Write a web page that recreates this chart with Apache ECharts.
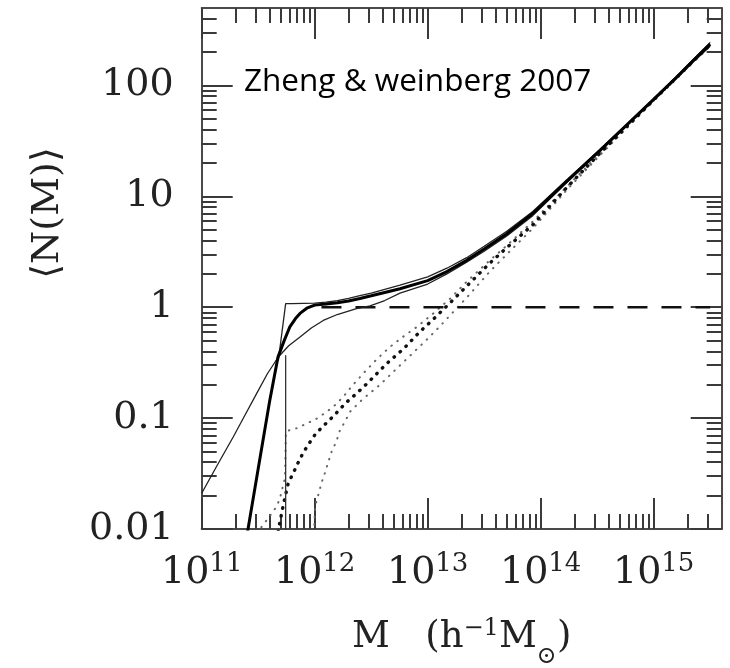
<!DOCTYPE html>
<html><head><meta charset="utf-8">
<script src="https://cdn.jsdelivr.net/npm/echarts@6/dist/echarts.min.js"></script>
<style>html,body{margin:0;padding:0;background:#fff}#c{width:730px;height:668px}</style>
</head><body><div id="c"></div>
<script>
// ---- axis ranges / tick labels ----
const xMinM = 1e11, xMaxM = 4e15;          // M (h^-1 Msun)
const yMinN = 0.01, yMaxN = 500;           // <N(M)>
const xTickExponents = [11, 12, 13, 14, 15];
const yTickValues = [0.01, 0.1, 1, 10, 100];
const yTickLabels = ['0.01', '0.1', '1', '10', '100'];

// ---- curves (log10 M , N) ----
// thick solid (moderate scatter)
const thickLogM = [11.39, 11.41, 11.50, 11.60, 11.675, 11.73, 11.78, 11.83, 11.87, 11.93, 12.00, 12.10, 12.20, 12.30, 12.40, 12.50, 12.62, 12.755, 13.00, 13.17, 13.345, 13.50, 13.70, 13.93, 14.20, 14.525, 14.80, 15.00, 15.20, 15.35, 15.50];
const thickN    = [0.008, 0.01, 0.035, 0.14, 0.355, 0.50, 0.665, 0.79, 0.88, 0.98, 1.045, 1.07, 1.10, 1.14, 1.20, 1.27, 1.36, 1.47, 1.74, 2.1, 2.65, 3.35, 4.6, 7.0, 12.8, 26, 48, 75, 118, 168, 236];
// thin solid, sharp step (lower vertical piece and upper piece)
const stepLowLogM = [11.743, 11.743];
const stepLowN    = [0.008, 0.37];
const stepLogM = [11.678, 11.743, 11.80, 11.90, 12.00, 12.10, 12.20, 12.30, 12.40, 12.50, 12.62, 12.755, 13.00, 13.17, 13.345, 13.50, 13.70, 13.93, 14.20, 14.525, 14.80, 15.00, 15.20, 15.35, 15.50];
const stepN    = [0.33, 1.08, 1.08, 1.085, 1.09, 1.11, 1.15, 1.20, 1.27, 1.34, 1.45, 1.58, 1.88, 2.25, 2.8, 3.55, 4.85, 7.3, 13.2, 26.5, 48.5, 76, 120, 172, 245];
// thin solid, wide scatter
const wideLogM = [11.0, 11.14, 11.28, 11.38, 11.487, 11.58, 11.678, 11.77, 11.87, 11.97, 12.076, 12.20, 12.37, 12.49, 12.62, 12.755, 13.00, 13.17, 13.345, 13.50, 13.70, 13.93, 14.20, 14.525, 14.80, 15.00, 15.20, 15.35, 15.50];
const wideN    = [0.021, 0.038, 0.068, 0.105, 0.167, 0.25, 0.356, 0.45, 0.54, 0.65, 0.76, 0.86, 0.97, 1.03, 1.15, 1.34, 1.62, 2.0, 2.55, 3.2, 4.4, 6.7, 12.4, 25.5, 47.5, 74, 115, 163, 226];
// dashed central occupation
const dashLogM = [12.06, 15.50];
const dashN    = [1, 1];
// dotted satellites
const sat1LogM = [11.50, 11.531, 11.575, 11.619, 11.664, 11.693, 11.737, 11.745, 11.79, 11.84, 11.93, 12.018, 12.106, 12.18, 12.253, 12.34, 12.43, 12.55, 12.667, 12.78, 12.90, 13.05, 13.20, 13.345, 13.55, 13.70, 13.935, 14.23, 14.525, 15.00, 15.50];
const sat1N    = [0.009, 0.0105, 0.012, 0.0138, 0.016, 0.019, 0.029, 0.075, 0.079, 0.081, 0.0895, 0.099, 0.114, 0.131, 0.156, 0.20, 0.253, 0.34, 0.44, 0.54, 0.66, 0.88, 1.2, 1.7, 2.65, 3.6, 6.0, 12.2, 24.5, 74, 232];
const sat2LogM = [11.67, 11.68, 11.722, 11.766, 11.811, 11.855, 11.899, 11.95, 12.003, 12.071, 12.135, 12.209, 12.274, 12.35, 12.43, 12.53, 12.637, 12.784, 12.93, 13.05, 13.20, 13.345, 13.55, 13.70, 13.935, 14.23, 14.525, 15.00, 15.50];
const sat2N    = [0.008, 0.01, 0.0164, 0.026, 0.032, 0.040, 0.049, 0.059, 0.071, 0.084, 0.097, 0.116, 0.137, 0.16, 0.19, 0.24, 0.31, 0.42, 0.60, 0.78, 1.1, 1.55, 2.5, 3.45, 5.6, 12.0, 24.5, 74, 233];
const sat3LogM = [11.99, 11.995, 12.003, 12.03, 12.06, 12.09, 12.12, 12.15, 12.19, 12.224, 12.268, 12.312, 12.43, 12.578, 12.726, 12.873, 13.00, 13.10, 13.20, 13.345, 13.55, 13.70, 13.935, 14.23, 14.525, 15.00, 15.50];
const sat3N    = [0.008, 0.01, 0.016, 0.020, 0.026, 0.032, 0.040, 0.050, 0.061, 0.078, 0.093, 0.114, 0.15, 0.20, 0.28, 0.39, 0.52, 0.66, 0.85, 1.22, 2.1, 3.0, 5.2, 11.4, 23.5, 73, 230];

// ---- build ----
const L = Math.log10;
const XMIN = L(xMinM), XMAX = L(xMaxM), YMIN = L(yMinN), YMAX = L(yMaxN);
const xMajor = xTickExponents.slice();
const yMajor = yTickValues.map(v => L(v));
const xMinor = [], yMinor = [];
for (let d = 11; d <= 15; d++) for (let k = 2; k <= 9; k++) { const v = d + L(k); if (v < XMAX - 1e-3) xMinor.push(v); }
for (let d = -2; d <= 2; d++) for (let k = 2; k <= 9; k++) { const v = d + L(k); if (v < YMAX - 1e-3) yMinor.push(v); }
const pts = (lm, n) => lm.map((m, i) => [m, L(n[i])]);

const SERIF = "'DejaVu Serif', 'Liberation Serif', serif";
const frame = { color: '#4a4a4a', width: 2 };
const tickStyle = { color: '#3a3a3a', width: 2 };

function xAx(pos, major, labels) {
  return {
    type: 'value', min: XMIN, max: XMAX, position: pos,
    axisLine: { show: major, onZero: false, lineStyle: frame },
    axisTick: { show: true, inside: true, length: major ? 31 : 15, customValues: major ? xMajor : xMinor, lineStyle: tickStyle },
    axisLabel: labels ? {
      show: true, customValues: xMajor, margin: 22,
      formatter: v => '{b|10}{s|' + Math.round(v) + '}',
      rich: { b: { fontFamily: SERIF, fontSize: 38, color: '#222' },
              s: { fontFamily: SERIF, fontSize: 26, color: '#222', padding: [0, 0, 18, 0] } }
    } : { show: false },
    splitLine: { show: false }
  };
}
function yAx(pos, major, labels) {
  return {
    type: 'value', min: YMIN, max: YMAX, position: pos,
    axisLine: { show: major, onZero: false, lineStyle: frame },
    axisTick: { show: true, inside: true, length: major ? 31 : 15, customValues: major ? yMajor : yMinor, lineStyle: tickStyle },
    axisLabel: labels ? {
      show: true, customValues: yMajor, margin: 28,
      fontFamily: SERIF, fontSize: 38, color: '#222',
      formatter: v => yTickLabels[Math.round(v) + 2]
    } : { show: false },
    splitLine: { show: false }
  };
}

const line = (name, data, style, z) => ({
  name, type: 'line', data, xAxisIndex: 0, yAxisIndex: 0,
  showSymbol: false, symbol: 'none', smooth: false, clip: true,
  lineStyle: style, z: z || 2, animation: false
});

const chart = echarts.init(document.getElementById('c'), null, { renderer: 'canvas' });
chart.setOption({
  animation: false,
  backgroundColor: '#fff',
  grid: { left: 201.7, top: 8, width: 520, height: 521, containLabel: false },
  xAxis: [xAx('bottom', true, true), xAx('bottom', false, false), xAx('top', true, false), xAx('top', false, false)],
  yAxis: [yAx('left', true, true), yAx('left', false, false), yAx('right', true, false), yAx('right', false, false)],
  series: [
    line('sat1', pts(sat1LogM, sat1N), { color: '#666', width: 2, type: [0.5, 7], cap: 'round' }),
    line('sat3', pts(sat3LogM, sat3N), { color: '#666', width: 2, type: [0.5, 7], cap: 'round' }),
    line('sat2', pts(sat2LogM, sat2N), { color: '#111', width: 3.4, type: [0.5, 7.5], cap: 'round' }),
    line('cen', pts(dashLogM, dashN), { color: '#111', width: 2.6, type: [20, 14] }),
    line('wide', pts(wideLogM, wideN), { color: '#222', width: 1.3 }, 3),
    line('stepLow', pts(stepLowLogM, stepLowN), { color: '#333', width: 1.3 }, 3),
    line('step', pts(stepLogM, stepN), { color: '#222', width: 1.3 }, 3),
    line('thick', pts(thickLogM, thickN), { color: '#000', width: 3 }, 4)
  ],
  graphic: [
    { type: 'text', x: 244, y: 82,
      style: { text: 'Zheng & weinberg 2007', fontFamily: "'Open Sans', sans-serif", fontSize: 31.5, fill: '#000',
               align: 'left', verticalAlign: 'middle' } },
    { type: 'text', x: 48, y: 213, rotation: Math.PI / 2,
      style: { text: '⟨N(M)⟩', fontFamily: SERIF, fontSize: 38, fill: '#222', align: 'center', verticalAlign: 'middle' } },
    { type: 'text', x: 461.7, y: 637,
      style: { text: '{t|M   (h}{sup|−1}{t|M}{sub|⊙}{t|)}', align: 'center', verticalAlign: 'middle', fill: '#222',
               rich: { t: { fontFamily: SERIF, fontSize: 37, fill: '#222' },
                       sup: { fontFamily: SERIF, fontSize: 24, fill: '#222', padding: [0, 0, 16, 0] },
                       sub: { fontFamily: SERIF, fontSize: 24, fill: '#222', padding: [40, 0, 0, 0] } } } }
  ]
});
</script></body></html>
